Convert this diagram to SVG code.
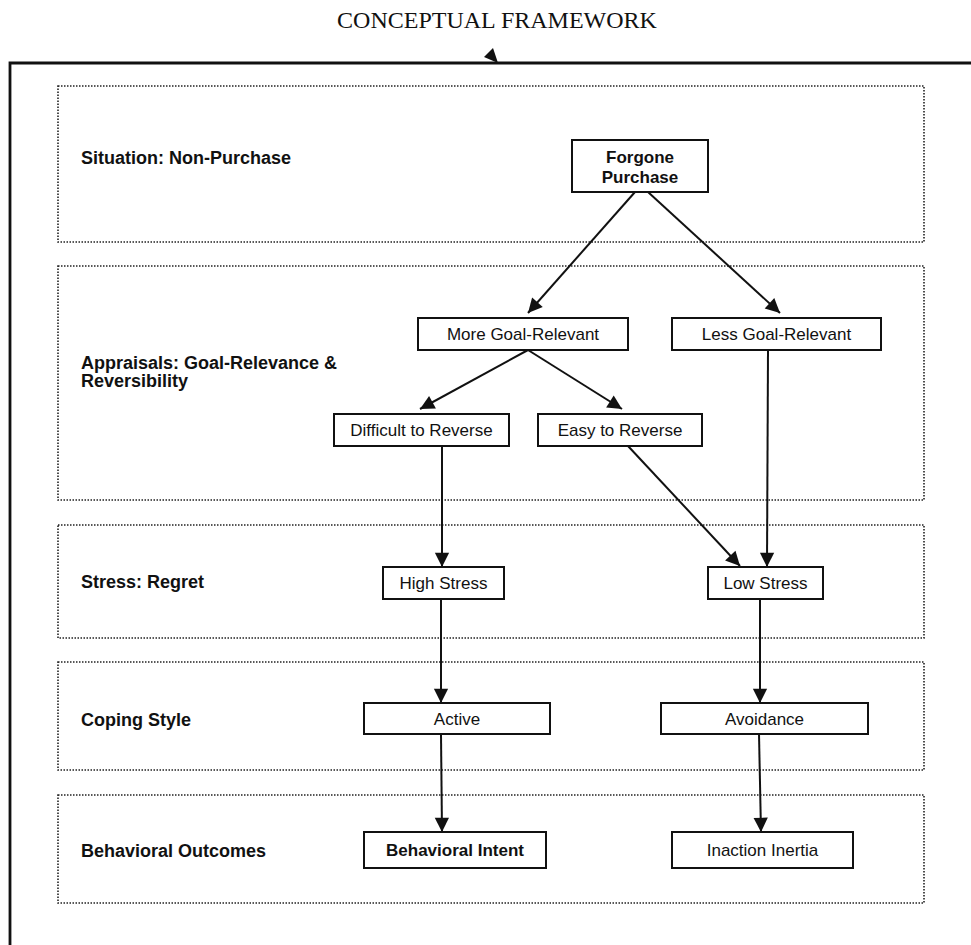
<svg xmlns="http://www.w3.org/2000/svg" width="971" height="945" viewBox="0 0 971 945">
<style>
.panel{fill:none;stroke:#222;stroke-width:1.6;stroke-dasharray:1.5 1.5}
.box{fill:#fff;stroke:#111;stroke-width:2}
.lbl{font-family:"Liberation Sans",Arial,sans-serif;font-weight:bold;font-size:18px;fill:#111}
.t{font-family:"Liberation Sans",Arial,sans-serif;font-size:17px;fill:#111;text-anchor:middle}
.tb{font-family:"Liberation Sans",Arial,sans-serif;font-size:17px;font-weight:bold;fill:#111;text-anchor:middle}
.con{stroke:#111;stroke-width:2;fill:none;marker-end:url(#ah)}
</style>
<defs>
<marker id="ah" viewBox="0 0 10 10" refX="10" refY="5" markerWidth="7.5" markerHeight="7.5" markerUnits="userSpaceOnUse" orient="auto" style="overflow:visible">
<path d="M0,0 L10,5 L0,10 Z" fill="#111" transform="scale(1.9)" transform-origin="10 5"/>
</marker>
</defs>
<rect width="971" height="945" fill="#fff"/>
<text x="497" y="28" font-family="Liberation Serif,Times New Roman,serif" font-size="24" text-anchor="middle" fill="#111">CONCEPTUAL FRAMEWORK</text>
<polygon points="484,57 493,48 498,63" fill="#111"/>
<path d="M10,975 L10,63 L975,63" fill="none" stroke="#111" stroke-width="2.8"/>
<g id="panels">
<rect class="panel" x="58" y="86" width="866" height="156"/>
<rect class="panel" x="58" y="266" width="866" height="234"/>
<rect class="panel" x="58" y="525" width="866" height="113"/>
<rect class="panel" x="58" y="662" width="866" height="108"/>
<rect class="panel" x="58" y="795" width="866" height="108"/>
</g>
<g id="labels">
<text class="lbl" x="81" y="164">Situation: Non-Purchase</text>
<text class="lbl" x="81" y="369">Appraisals: Goal-Relevance &amp;</text>
<text class="lbl" x="81" y="387">Reversibility</text>
<text class="lbl" x="81" y="588">Stress: Regret</text>
<text class="lbl" x="81" y="726">Coping Style</text>
<text class="lbl" x="81" y="857">Behavioral Outcomes</text>
</g>
<g id="connectors">
<line class="con" x1="635" y1="192" x2="528" y2="313"/>
<line class="con" x1="648" y1="192" x2="780" y2="313"/>
<line class="con" x1="528" y1="350" x2="420" y2="409"/>
<line class="con" x1="528" y1="350" x2="622" y2="409"/>
<line class="con" x1="442" y1="446" x2="442" y2="567"/>
<line class="con" x1="628" y1="446" x2="740" y2="566"/>
<line class="con" x1="768" y1="350" x2="767" y2="567"/>
<line class="con" x1="441" y1="599" x2="441" y2="703"/>
<line class="con" x1="760" y1="599" x2="760" y2="703"/>
<line class="con" x1="441" y1="734" x2="442" y2="832"/>
<line class="con" x1="759" y1="734" x2="761" y2="832"/>
</g>
<g id="forgone"><rect class="box" x="572" y="140" width="136" height="52"/><text class="tb" x="640" y="163">Forgone</text><text class="tb" x="640" y="183">Purchase</text></g>
<g id="more"><rect class="box" x="418" y="318" width="210" height="32"/><text class="t" x="523" y="340">More Goal-Relevant</text></g>
<g id="less"><rect class="box" x="672" y="318" width="209" height="32"/><text class="t" x="776.5" y="340">Less Goal-Relevant</text></g>
<g id="difficult"><rect class="box" x="334" y="414" width="175" height="32"/><text class="t" x="421.5" y="436">Difficult to Reverse</text></g>
<g id="easy"><rect class="box" x="538" y="414" width="164" height="32"/><text class="t" x="620" y="436">Easy to Reverse</text></g>
<g id="high"><rect class="box" x="383" y="567" width="121" height="32"/><text class="t" x="443.5" y="589">High Stress</text></g>
<g id="low"><rect class="box" x="708" y="567" width="115" height="32"/><text class="t" x="765.5" y="589">Low Stress</text></g>
<g id="active"><rect class="box" x="364" y="703" width="186" height="31"/><text class="t" x="457" y="725">Active</text></g>
<g id="avoidance"><rect class="box" x="661" y="703" width="207" height="31"/><text class="t" x="764.5" y="725">Avoidance</text></g>
<g id="intent"><rect class="box" x="364" y="832" width="182" height="36"/><text class="tb" x="455" y="856">Behavioral Intent</text></g>
<g id="inaction"><rect class="box" x="672" y="832" width="181" height="36"/><text class="t" x="762.5" y="856">Inaction Inertia</text></g>
</svg>
